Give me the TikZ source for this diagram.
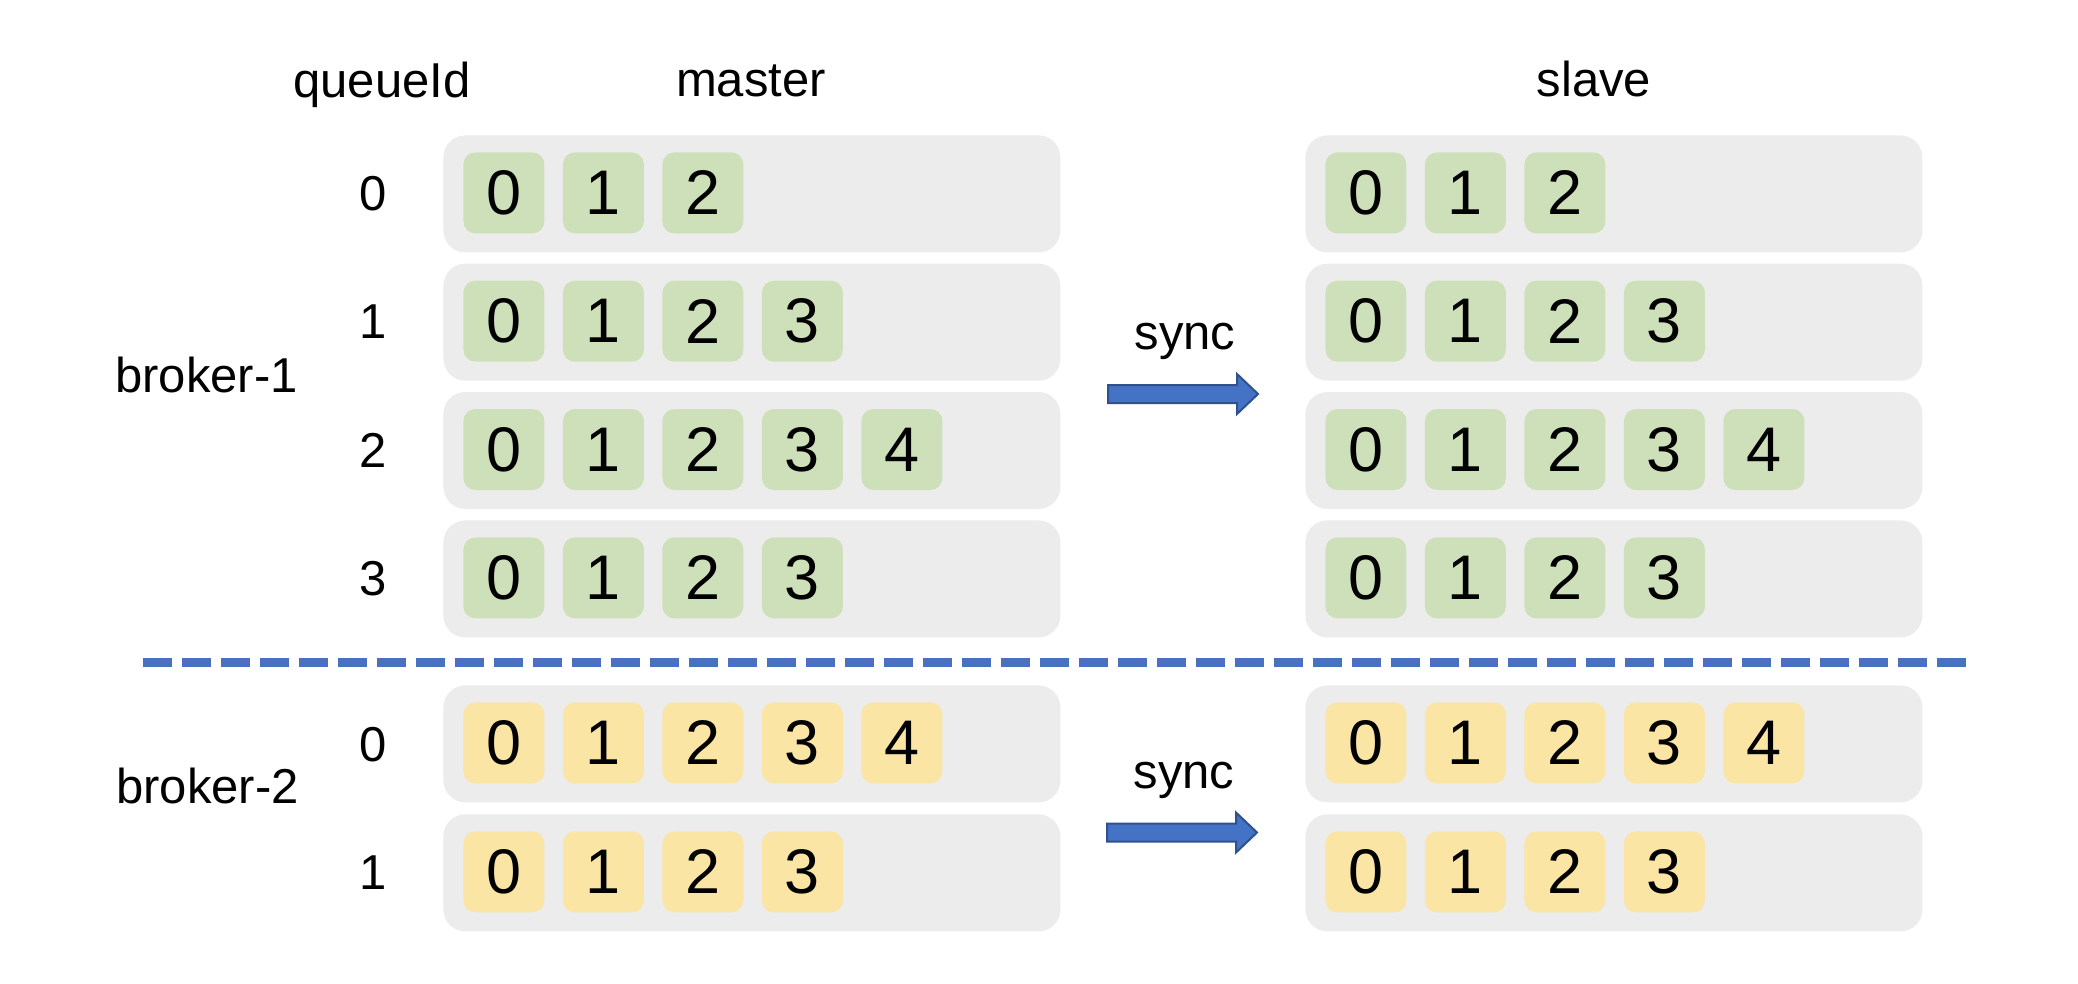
\documentclass[tikz,border=0pt]{standalone}
\usepackage{fontspec}
\setmainfont{Liberation Sans}
\definecolor{rowgrey}{HTML}{ECECEC}
\definecolor{cellgreen}{HTML}{CEE0BA}
\definecolor{cellyellow}{HTML}{FAE5A5}
\definecolor{lineblue}{HTML}{4A70C2}
\definecolor{arrowfill}{HTML}{4472C4}
\definecolor{arrowedge}{HTML}{2F528F}
\tikzset{
  rowbox/.style={fill=rowgrey, draw=none, rounded corners=11pt, minimum width=308.5pt, minimum height=58.5pt, inner sep=0pt},
  cellbox/.style={draw=none, rounded corners=6pt, minimum width=40.5pt, minimum height=40.5pt, inner sep=0pt, font=\fontsize{31.5}{36}\selectfont},
  green/.style={fill=cellgreen},
  yellow/.style={fill=cellyellow},
  lbl/.style={inner sep=0pt, font=\fontsize{24.5}{29}\selectfont},
  qlbl/.style={inner sep=0pt, font=\fontsize{24.5}{29}\selectfont},
  divider/.style={draw=lineblue, line width=4.5pt, dash pattern=on 14.5pt off 5pt},
  syncarrow/.style={fill=arrowfill, draw=arrowedge, line width=1pt, line join=miter},
}
\newcommand{\qrow}[5]{%
  \node[rowbox, anchor=north west] (#1) at (#2,#3) {};
  \foreach \k in {0,...,#4} {
    \node[cellbox, #5, anchor=north west] (#1-c\k) at ({#2+20+99.5*\k},{#3+17}) {\k};
  }%
}
\newcommand{\syncarr}[3]{% name, left x, centre y
  \coordinate (#1) at (#2,#3);
  \filldraw[syncarrow] (#1) ++(0,-9) -- ++(129,0) -- ++(0,-11) -- ++(21,20) -- ++(-21,20) -- ++(0,-11) -- ++(-129,0) -- cycle;
}
\begin{document}
\begin{tikzpicture}[x=0.5pt,y=-0.5pt]
\useasboundingbox[fill=white] (0,0) rectangle (2078,984);
% titles
\node[lbl, anchor=base west] (tq) at (293,98) {queueId};
\node[lbl, anchor=base] (tm) at (751,97) {master};
\node[lbl, anchor=base] (ts) at (1594,97) {slave};
\node[lbl, anchor=base west] (b1) at (115,393) {broker-1};
\node[lbl, anchor=base west] (b2) at (116,803) {broker-2};
% broker-1 master
\qrow{m10}{443}{135}{2}{green}
\qrow{m11}{443}{263.3}{3}{green}
\qrow{m12}{443}{391.6}{4}{green}
\qrow{m13}{443}{520}{3}{green}
% broker-1 slave
\qrow{s10}{1305}{135}{2}{green}
\qrow{s11}{1305}{263.3}{3}{green}
\qrow{s12}{1305}{391.6}{4}{green}
\qrow{s13}{1305}{520}{3}{green}
% broker-2 master
\qrow{m20}{443}{685}{4}{yellow}
\qrow{m21}{443}{814}{3}{yellow}
% broker-2 slave
\qrow{s20}{1305}{685}{4}{yellow}
\qrow{s21}{1305}{814}{3}{yellow}
% queue ids
\node[qlbl] (q10) at (373,193.5) {0};
\node[qlbl] (q11) at (373,321.8) {1};
\node[qlbl] (q12) at (373,450.1) {2};
\node[qlbl] (q13) at (373,578.5) {3};
\node[qlbl] (q20) at (373,745) {0};
\node[qlbl] (q21) at (373,872.5) {1};
% divider
\coordinate (dl) at (143,662);
\coordinate (dr) at (1967,662);
\draw[divider] (dl) -- (dr);
% sync arrows
\node[lbl, anchor=base] (sync1) at (1185,350) {sync};
\syncarr{a1}{1108}{394}
\node[lbl, anchor=base] (sync2) at (1184,788) {sync};
\syncarr{a2}{1107}{832.5}
\end{tikzpicture}
\end{document}
